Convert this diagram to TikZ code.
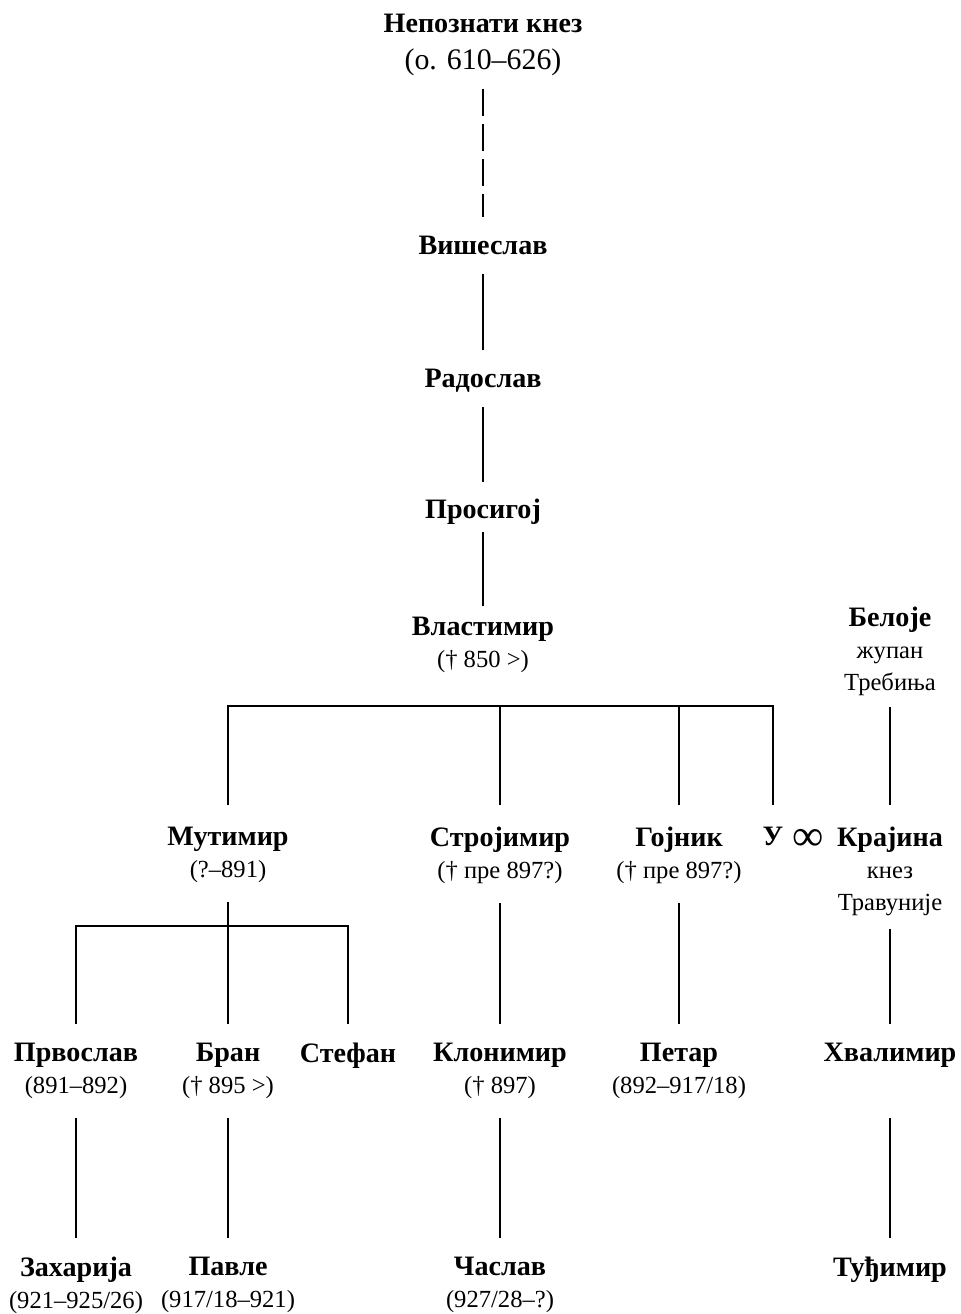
\documentclass[tikz,border=0pt]{standalone}
\usepackage{fontspec}
\setmainfont{Liberation Serif}
\usetikzlibrary{positioning}
\newcommand\who[1]{{\fontsize{16}{18}\selectfont\bfseries #1}}
\begin{document}
\begin{tikzpicture}[x=.02cm,y=-.02cm,font=\fontsize{14}{18}\selectfont,
  person/.style={anchor=north,align=center,inner xsep=1pt,inner ysep=0pt},
  link/.style={line width=1.3pt,shorten <=.38cm,shorten >=.38cm}]
\useasboundingbox(0,0)rectangle(960,1314);
% ancestors
\node[person](nepoznati)at(483,14){\who{Непознати кнез}\\[3pt]{\fontsize{17}{18}\selectfont(о. 610–626)}};
\node[person](vishe)at(483,236){\who{Вишеслав}};
\node[person](rado)at(483,369){\who{Радослав}};
\node[person](prosi)at(483,499){\who{Просигој}};
\node[person](vlast)at(483,617){\who{Властимир}\\(† 850 >)};
\node[person](beloje)at(890,607){\who{Белоје}\\жупан\\Требиња};
% children of Vlastimir
\node[person](mutimir)at(228,827){\who{Мутимир}\\(?–891)};
\node[person](stroj)at(500,827){\who{Стројимир}\\(† пре 897?)};
\node[person](gojnik)at(679,827){\who{Гојник}\\(† пре 897?)};
\node[person](u)at(773,827){\who{У}};
\node[inner sep=0pt,anchor=base west](ring)at([xshift=.14cm,yshift=-.1cm]u.base east){\fontsize{25}{25}\selectfont ∞};
\node[person](krajina)at(890,827){\who{Крајина}\\кнез\\Травуније};
% grandchildren
\node[person](prvo)at(76,1043){\who{Првослав}\\(891–892)};
\node[person](bran)at(228,1043){\who{Бран}\\(† 895 >)};
\node[person](stefan)at(348,1043){\who{Стефан}};
\node[person](klon)at(500,1043){\who{Клонимир}\\(† 897)};
\node[person](petar)at(679,1043){\who{Петар}\\(892–917/18)};
\node[person](hvali)at(890,1043){\who{Хвалимир}};
\node[person](zahar)at(76,1257){\who{Захарија}\\(921–925/26)};
\node[person](pavle)at(228,1257){\who{Павле}\\(917/18–921)};
\node[person](caslav)at(500,1257){\who{Часлав}\\(927/28–?)};
\node[person](tudj)at(890,1257){\who{Туђимир}};
\coordinate(vbar)at(483,706);\coordinate(mbar)at(228,926);
% lines
\draw[link,dash pattern=on .54cm off .16cm,shorten <=.26cm](nepoznati)--(vishe);
\draw[link](vishe)--(rado);
\draw[link,shorten <=.28cm,shorten >=.34cm](rado)--(prosi);
\draw[link,shorten <=.14cm,shorten >=.22cm](prosi)--(vlast);
\draw[link,shorten <=.44cm,shorten >=.44cm](mutimir.north)|-(vbar)-|(u.north);
\draw[link,shorten <=0pt,shorten >=.44cm](stroj.north|-vbar)--(stroj.north);
\draw[link,shorten <=0pt,shorten >=.44cm](gojnik.north|-vbar)--(gojnik.north);
\draw[link,shorten <=.22cm,shorten >=.44cm](beloje)--(krajina);
\draw[link](mutimir)--(bran);
\draw[link,shorten <=.38cm,shorten >=.38cm](prvo.north)|-(mbar)-|(stefan.north);
\draw[link](stroj)--(klon);\draw[link](gojnik)--(petar);
\draw[link,shorten <=.26cm](krajina)--(hvali);
\draw[link](prvo)--(zahar);\draw[link](bran)--(pavle);
\draw[link](klon)--(caslav);\draw[link,shorten <=1cm](hvali)--(tudj);
\end{tikzpicture}
\end{document}
